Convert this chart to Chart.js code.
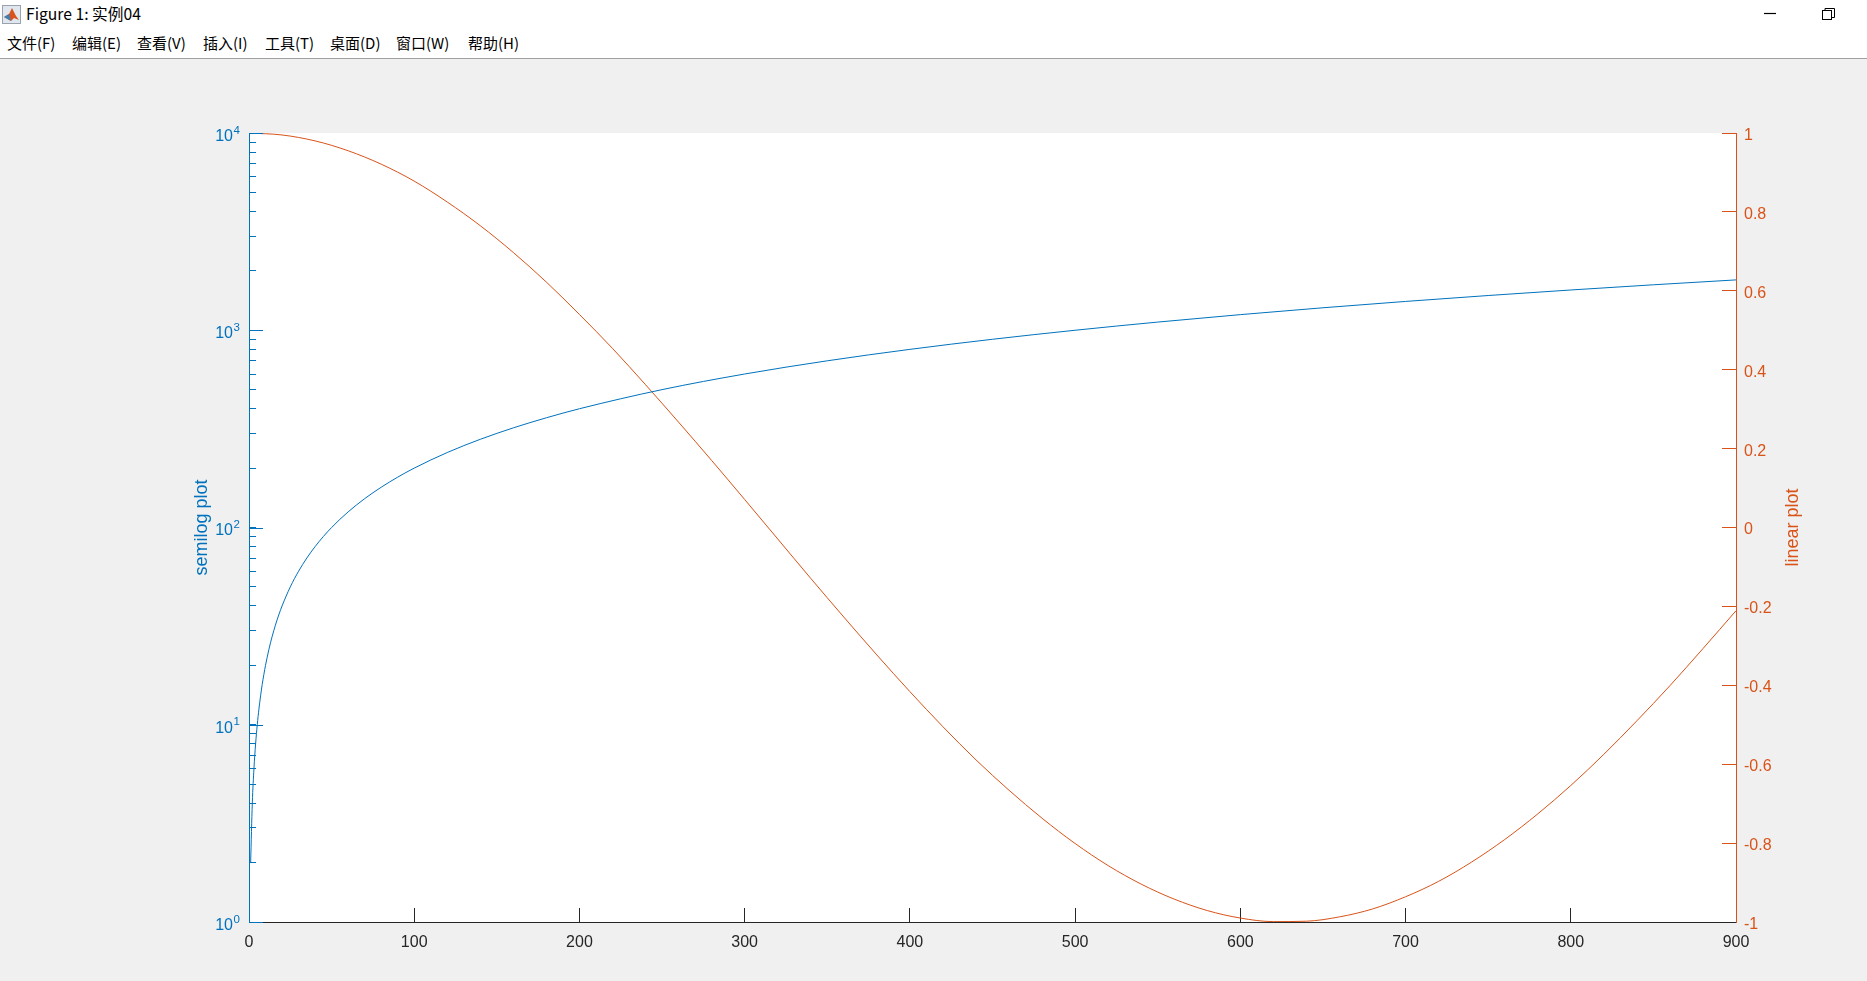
<!DOCTYPE html>
<html><head><meta charset="utf-8">
<script src="https://cdn.jsdelivr.net/npm/chart.js@4"></script>
<style>
html,body{margin:0;padding:0;width:1867px;height:981px;overflow:hidden;background:#f0f0f0;}
#bar{position:absolute;left:0;top:0;width:1867px;height:58px;background:#fff;border-bottom:1px solid #a0a0a0;font-family:"Noto Sans CJK SC","Noto Sans",sans-serif;color:#000;}
#bar span{position:absolute;white-space:nowrap;line-height:20px;}
.m{top:33px;font-size:15px;}
#wrap{position:absolute;left:0;top:59px;width:1867px;height:922px;}
</style></head><body>
<div id="bar">
<svg style="position:absolute;left:2px;top:5px" width="19" height="19" viewBox="0 0 19 19"><rect x="0.5" y="0.5" width="18" height="18" fill="#dfe6ee" stroke="#9aa3ad"/><path d="M2 12 L7 9 L10 3 L14 11 L17 15 L12 13 L9 16 Z" fill="#d9531e"/><path d="M2 12 L7 9 L9 16 Z" fill="#3f7fb5"/></svg>
<span id="ttl" style="left:26px;top:4px;font-size:15.7px;">Figure 1: 实例04</span>
<span class="m" style="left:7px">文件(F)</span>
<span class="m" style="left:72px">编辑(E)</span>
<span class="m" style="left:137px">查看(V)</span>
<span class="m" style="left:203px">插入(I)</span>
<span class="m" style="left:265px">工具(T)</span>
<span class="m" style="left:330px">桌面(D)</span>
<span class="m" style="left:396px">窗口(W)</span>
<span class="m" style="left:468px">帮助(H)</span>
<svg style="position:absolute;left:1760px;top:6px" width="80" height="16" viewBox="0 0 80 16"><path d="M4 7.5H16" stroke="#000" stroke-width="1.2"/><rect x="62.5" y="4.5" width="9" height="9" fill="#fff" stroke="#000"/><path d="M65 4V2.5H74.5V11.5H72" fill="none" stroke="#000"/></svg>
</div>
<div id="wrap"><canvas id="c" width="1867" height="922"></canvas></div>
<script>
const xTickLabels=[0,100,200,300,400,500,600,700,800,900];
const logDecades=[1,10,100,1000,10000];
const logExponents=['0','1','2','3','4'];
const logMinor=[2,3,4,5,6,7,8,9,20,30,40,50,60,70,80,90,200,300,400,500,600,700,800,900,2000,3000,4000,5000,6000,7000,8000,9000];
const linearTicks=[-1,-0.8,-0.6,-0.4,-0.2,0,0.2,0.4,0.6,0.8,1];
const semilogX=[1,2,3,4,5,6,7,8,9,10,12,14,16,18,20,25,30,35,40,45,50,60,70,80,90,100,120,140,160,180,200,250,300,350,400,450,500,550,600,650,700,750,800,850,900];
const semilogY=[2,4,6,8,10,12,14,16,18,20,24,28,32,36,40,50,60,70,80,90,100,120,140,160,180,200,240,280,320,360,400,500,600,700,800,900,1000,1100,1200,1300,1400,1500,1600,1700,1800];
const linearX=[0,20,40,60,80,100,120,140,160,180,200,220,240,260,280,300,320,340,360,380,400,420,440,460,480,500,520,540,560,580,600,620,640,660,680,700,720,740,760,780,800,820,840,860,880,900];
const linearY=[1,.995,.98,.955,.921,.878,.825,.765,.697,.622,.54,.454,.362,.267,.17,.071,-.029,-.129,-.227,-.323,-.416,-.505,-.589,-.666,-.737,-.801,-.857,-.904,-.942,-.971,-.99,-.999,-.998,-.987,-.967,-.936,-.897,-.848,-.791,-.726,-.654,-.575,-.49,-.401,-.307,-.211];
const BLUE='#0072BD',RED='#D95319',DARK='#262626';
const FONT='"Liberation Sans",Arial,sans-serif';
const pairs=(xs,ys)=>xs.map((x,i)=>({x,y:ys[i]}));
const frame={id:'frame',
 beforeDraw(ch){const a=ch.chartArea,c=ch.ctx;c.save();c.fillStyle='#fff';c.fillRect(a.left,a.top,a.right-a.left,a.bottom-a.top);c.restore();},
 afterDraw(ch){const s=ch.scales.y,a=ch.chartArea,c=ch.ctx;c.save();c.strokeStyle=BLUE;c.fillStyle=BLUE;c.lineWidth=1;
  c.font='11.5px '+FONT;c.textAlign='left';c.textBaseline='alphabetic';
  logDecades.forEach((v,i)=>{const y=s.getPixelForValue(v),p=Math.round(y)+.5;c.beginPath();c.moveTo(a.left,p);c.lineTo(a.left+14,p);c.stroke();
   c.fillText(logExponents[i],a.left-15.5,y+0.5);});
  c.fillStyle=RED;c.font='18px '+FONT;c.textAlign='center';c.textBaseline='middle';
  c.translate(1793,(a.top+a.bottom)/2);c.rotate(-Math.PI/2);c.fillText('linear plot',0,0);
  c.restore();}
};
new Chart(document.getElementById('c'),{
 type:'scatter',
 data:{datasets:[
  {label:'semilog plot',data:pairs(semilogX,semilogY),yAxisID:'y',showLine:true,borderColor:BLUE,borderWidth:1,pointRadius:0,cubicInterpolationMode:'monotone'},
  {label:'linear plot',data:pairs(linearX,linearY),yAxisID:'y2',showLine:true,borderColor:RED,borderWidth:1,pointRadius:0,cubicInterpolationMode:'monotone'}
 ]},
 plugins:[frame],
 options:{
  responsive:false,animation:false,
  layout:{padding:{left:190,right:60,top:74,bottom:0}},
  plugins:{legend:{display:false},tooltip:{enabled:false}},
  scales:{
   x:{type:'linear',min:0,max:900,
    afterBuildTicks(s){s.ticks=xTickLabels.map(v=>({value:v}));},
    afterFit(s){s.height=59;},
    border:{color:DARK,width:1},
    grid:{drawOnChartArea:false,drawTicks:true,tickLength:-14,tickColor:DARK},
    ticks:{color:DARK,padding:25,maxRotation:0,autoSkip:false,font:{family:FONT,size:16}}},
   y:{type:'logarithmic',position:'left',min:1,max:10000,
    afterBuildTicks(s){s.ticks=logDecades.concat(logMinor).sort((a,b)=>a-b).map(v=>({value:v}));},
    afterFit(s){s.width=59;},
    border:{color:BLUE,width:1},
    grid:{drawOnChartArea:false,tickLength:-7,tickColor:BLUE},
    title:{display:true,text:'semilog plot',color:BLUE,padding:{top:1,bottom:0},font:{family:FONT,size:18,weight:'normal'}},
    ticks:{color:BLUE,padding:23,labelOffset:3.5,autoSkip:false,font:{family:FONT,size:16},
     callback(v){return logDecades.includes(v)?'10':'';}}},
   y2:{type:'linear',position:'right',min:-1,max:1,
    afterBuildTicks(s){s.ticks=linearTicks.map(v=>({value:v}));},
    afterFit(s){s.width=71;},
    border:{color:RED,width:1},
    grid:{drawOnChartArea:false,tickLength:-14,tickColor:RED},
    ticks:{color:RED,padding:22,labelOffset:2.5,autoSkip:false,font:{family:FONT,size:16},callback:v=>String(Math.round(v*10)/10)}}
  }
 }
});
</script></body></html>
